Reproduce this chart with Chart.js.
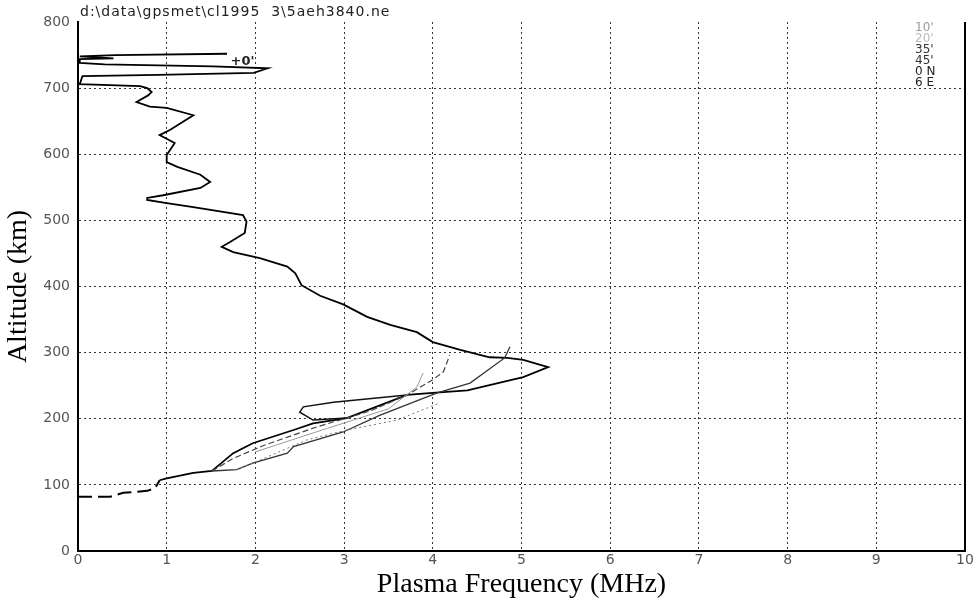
<!DOCTYPE html>
<html>
<head>
<meta charset="utf-8">
<script src="https://cdn.jsdelivr.net/npm/chart.js@4/dist/chart.umd.min.js"></script>
<style>
  html, body { margin: 0; padding: 0; background: #fff; }
  #wrap { width: 980px; height: 601px; }
</style>
</head>
<body>
<div id="wrap"><canvas id="chart" width="980" height="601"></canvas></div>
<script>
// axis ticks
const freqTicks = [0, 1, 2, 3, 4, 5, 6, 7, 8, 9, 10];
const altTicks = [0, 100, 200, 300, 400, 500, 600, 700, 800];

// texts
const fileLabel = "d:\\data\\gpsmet\\cl1995  3\\5aeh3840.ne";
const sideNotes = ["10'", "20'", "35'", "45'", "0 N", "6 E"];
const spikeNote = "+0'";

// profiles as [frequency MHz, altitude km]
const baseProfile = [[0, 82], [0.36, 82], [0.51, 88], [0.78, 91], [0.87, 95], [0.92, 107]];
const mainProfile = [
  [0.92, 107], [1.0, 110], [1.3, 118], [1.51, 121], [1.75, 148], [1.97, 163], [2.43, 183], [2.65, 193],
  [3.03, 201], [3.71, 236], [4.0, 239], [4.39, 243], [4.9, 259], [5.02, 263], [5.3, 278], [5.02, 289],
  [4.84, 292], [4.64, 293], [4.31, 304], [4.0, 316], [3.82, 331], [3.52, 342], [3.26, 354], [2.99, 373],
  [2.73, 386], [2.52, 402], [2.45, 420], [2.36, 430], [2.05, 443], [1.75, 452], [1.62, 460], [1.71, 467],
  [1.88, 481], [1.9, 498], [1.86, 508], [1.3, 520], [1.0, 526], [0.78, 531], [0.78, 534], [0.96, 538],
  [1.38, 549], [1.49, 558], [1.38, 569], [1.12, 581], [1.0, 588], [1.0, 599], [1.09, 617], [0.92, 629],
  [1.04, 637], [1.3, 659], [1.0, 670], [0.81, 672], [0.66, 679], [0.79, 689], [0.83, 694], [0.78, 700],
  [0.7, 703], [0.02, 706], [0.05, 718], [0.9, 720], [1.98, 723], [2.14, 730], [1.52, 733], [0.3, 736],
  [0.02, 738], [0.02, 744], [0.4, 745], [0.02, 748], [0.42, 750], [1.68, 752]
];
const loopProfile = [[3.71, 236], [2.88, 225], [2.54, 218], [2.5, 210], [2.65, 198], [3.03, 201]];
const branchProfile = [
  [1.51, 121], [1.79, 123], [1.97, 133], [2.36, 148], [2.43, 158], [2.99, 180], [3.4, 205],
  [4.05, 239], [4.42, 254], [4.81, 292], [4.87, 309]
];
const dashedProfile = [
  [1.51, 121], [1.75, 140], [2.1, 160], [2.7, 188], [3.3, 212], [3.71, 236], [4.0, 259], [4.12, 271], [4.19, 296]
];
const dottedProfile = [[1.79, 123], [2.13, 142], [2.58, 168], [3.03, 183], [3.6, 198], [4.08, 224]];
const thinProfile = [[2.0, 150], [2.8, 185], [3.5, 215], [3.82, 248], [3.89, 269]];

function pts(list) {
  return list.map(p => ({ x: p[0], y: p[1] }));
}

function line(data, color, width, dash) {
  return {
    data: pts(data),
    showLine: true,
    borderColor: color,
    borderWidth: width,
    borderDash: dash || [],
    pointRadius: 0,
    tension: 0,
    fill: false
  };
}

const annotate = {
  id: "annotate",
  afterDraw(chart) {
    const { ctx, chartArea: a, scales } = chart;
    ctx.save();
    ctx.strokeStyle = "#000";
    ctx.lineWidth = 2;
    ctx.beginPath();
    ctx.moveTo(a.right, a.top);
    ctx.lineTo(a.right, a.bottom);
    ctx.stroke();

    ctx.fillStyle = "#222";
    ctx.textBaseline = "middle";
    ctx.font = '14px "DejaVu Sans"';
    ctx.letterSpacing = "1px";
    ctx.fillText(fileLabel, a.left + 2, 12);

    ctx.font = 'bold 13px "DejaVu Sans"';
    ctx.letterSpacing = "0px";
    ctx.fillText(spikeNote, scales.x.getPixelForValue(1.72), scales.y.getPixelForValue(740));

    ctx.font = '12px "DejaVu Sans"';
    const colors = ["#999", "#bbb", "#333", "#333", "#222", "#222"];
    sideNotes.forEach((t, i) => {
      ctx.fillStyle = colors[i];
      ctx.fillText(t, 915, 28 + i * 11);
    });
    ctx.restore();
  }
};

new Chart(document.getElementById("chart"), {
  type: "scatter",
  data: {
    datasets: [
      line(thinProfile, "#999", 1),
      line(dottedProfile, "#777", 1, [2, 3]),
      line(dashedProfile, "#444", 1.2, [6, 3]),
      line(branchProfile, "#333", 1.3),
      line(loopProfile, "#111", 1.5),
      line(baseProfile, "#000", 2, [14, 6]),
      line(mainProfile, "#000", 1.8)
    ]
  },
  options: {
    responsive: false,
    animation: false,
    layout: { padding: { top: 22, right: 15, bottom: 0, left: 0 } },
    plugins: { legend: { display: false }, tooltip: { enabled: false } },
    scales: {
      x: {
        type: "linear",
        min: 0,
        max: 10,
        afterBuildTicks: s => { s.ticks = freqTicks.map(v => ({ value: v })); },
        afterFit: s => { s.height = 50; },
        ticks: { color: "#555", font: { family: "DejaVu Sans", size: 14 }, padding: 1, maxRotation: 0 },
        grid: {
          drawTicks: false,
          color: c => (c.tick && (c.tick.value === 0 || c.tick.value === 10)) ? "transparent" : "#333",
          lineWidth: 1
        },
        border: { color: "#000", width: 2, dash: [2, 3] },
        title: {
          display: true,
          text: "Plasma Frequency (MHz)",
          color: "#000",
          font: { family: "Liberation Serif", size: 28 },
          padding: { top: 0, bottom: 0 }
        }
      },
      y: {
        type: "linear",
        min: 0,
        max: 800,
        afterBuildTicks: s => { s.ticks = altTicks.map(v => ({ value: v })); },
        afterFit: s => { s.width = 78; },
        ticks: { color: "#555", font: { family: "DejaVu Sans", size: 14 }, padding: 8 },
        grid: {
          drawTicks: false,
          color: c => (c.tick && (c.tick.value === 0 || c.tick.value === 800)) ? "transparent" : "#333",
          lineWidth: 1
        },
        border: { color: "#000", width: 2, dash: [2, 3] },
        title: {
          display: true,
          text: "Altitude (km)",
          color: "#000",
          font: { family: "Liberation Serif", size: 28 },
          padding: { top: 2, bottom: 0 }
        }
      }
    }
  },
  plugins: [annotate]
});
</script>
</body>
</html>
